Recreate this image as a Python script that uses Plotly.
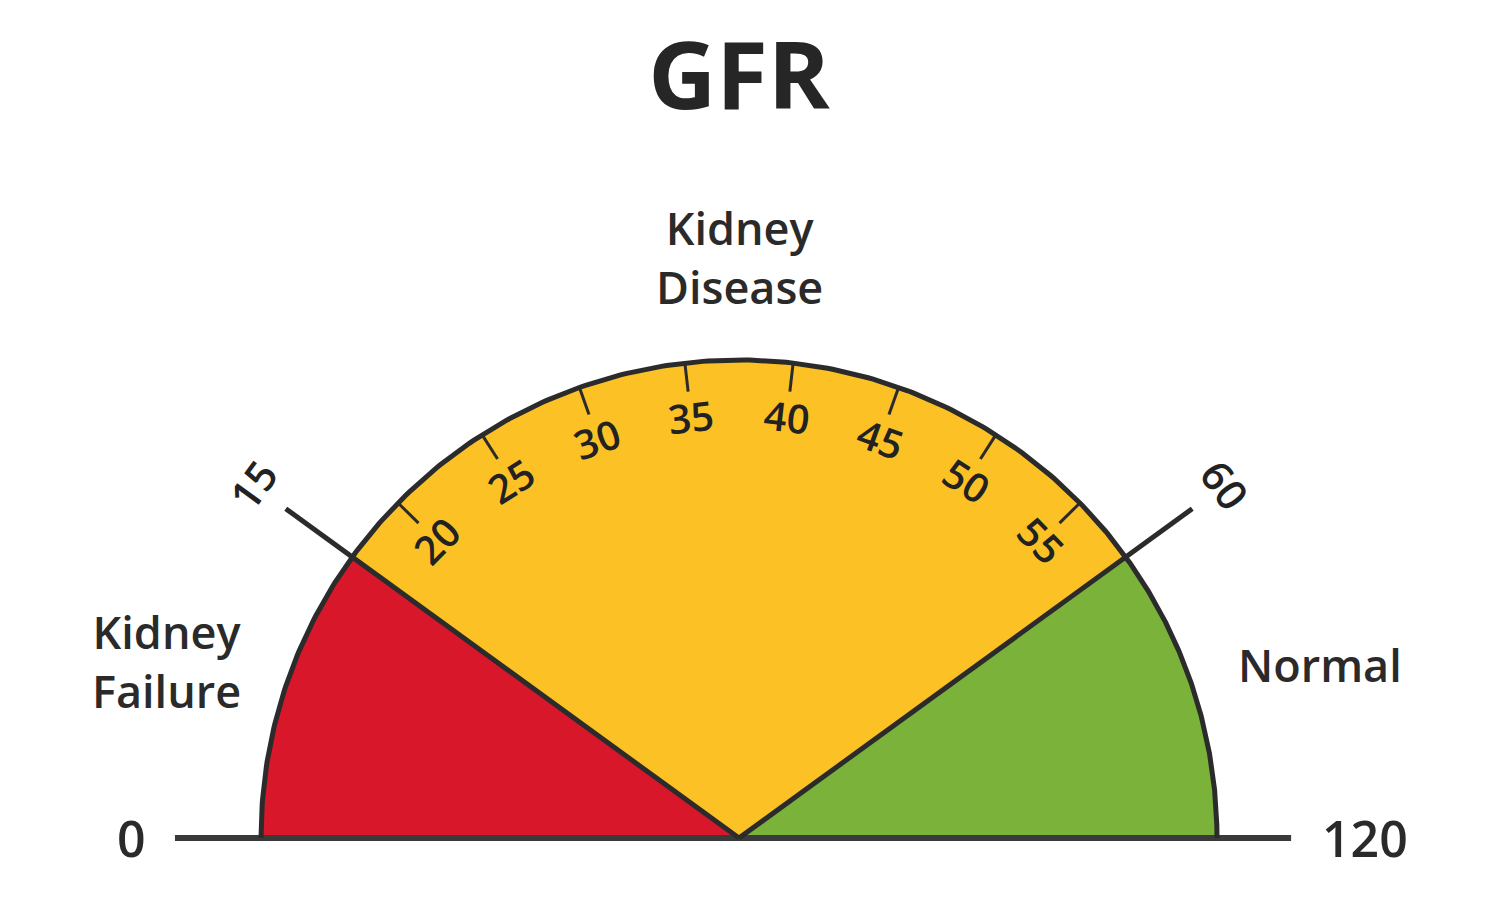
import numpy as np
import plotly.graph_objects as go

# ---- data ----
title_text = "GFR"
zone_names = ["Kidney<br>Failure", "Kidney<br>Disease", "Normal"]
zone_bounds = [0, 15, 60, 120]
zone_colors = ["#d9172b", "#fcc125", "#7ab23a"]
boundary_values = [15, 60]
tick_values = [20, 25, 30, 35, 40, 45, 50, 55]
end_values = [0, 120]
# gauge scale: value -> angle (degrees, 180 = left, 0 = right)
scale_values = [0, 15, 20, 55, 60, 120]
scale_angles = [180, 144, 135.5, 44.5, 36, 0]

DARK = "#2b2b2b"
FONT = "Open Sans"


def ang(v):
    return np.interp(v, scale_values, scale_angles)


def pt(v, r):
    a = np.radians(ang(v))
    return r * np.cos(a), r * np.sin(a)


fig = go.Figure()

# zone sectors
for lo, hi, col in zip(zone_bounds[:-1], zone_bounds[1:], zone_colors):
    vs = np.linspace(lo, hi, 120)
    xs, ys = pt(vs, 1.0)
    fig.add_trace(go.Scatter(
        x=np.concatenate([[0], xs, [0]]), y=np.concatenate([[0], ys, [0]]),
        fill="toself", fillcolor=col, mode="lines", line=dict(width=0),
        hoverinfo="skip", showlegend=False))

# baseline
bx0, by0 = pt(end_values[0], 1.18)
bx1, by1 = pt(end_values[1], 1.155)
fig.add_trace(go.Scatter(x=[bx0, bx1], y=[by0, by1], mode="lines",
                         line=dict(color="#3a3a3a", width=6), hoverinfo="skip", showlegend=False))

# outer arc
vs = np.linspace(end_values[0], end_values[1], 500)
ax_, ay_ = pt(vs, 1.0)
fig.add_trace(go.Scatter(x=ax_, y=ay_, mode="lines", line=dict(color=DARK, width=5),
                         hoverinfo="skip", showlegend=False))

# boundary lines
for v in boundary_values:
    ex, ey = pt(v, 1.172)
    fig.add_trace(go.Scatter(x=[0, ex], y=[0, ey], mode="lines", line=dict(color=DARK, width=5),
                             hoverinfo="skip", showlegend=False))

# tick marks
for v in tick_values:
    x0, y0 = pt(v, 1.0)
    x1, y1 = pt(v, 0.94)
    fig.add_trace(go.Scatter(x=[x0, x1], y=[y0, y1], mode="lines", line=dict(color=DARK, width=3),
                             hoverinfo="skip", showlegend=False))

annotations = []
# tick labels
for v in tick_values:
    x, y = pt(v, 0.887)
    annotations.append(dict(x=x, y=y, xref="x", yref="y", text=str(v), showarrow=False,
                            textangle=90 - float(ang(v)),
                            font=dict(family=FONT, size=40, color="#222222", weight=600)))
# boundary labels
for v in boundary_values:
    x, y = pt(v, 1.257)
    annotations.append(dict(x=x, y=y, xref="x", yref="y", text=str(v), showarrow=False,
                            textangle=90 - float(ang(v)),
                            font=dict(family=FONT, size=42, color="#222222", weight=600)))
# end labels
x, y = pt(end_values[0], 1.236)
annotations.append(dict(x=x, y=y, xref="x", yref="y", text=str(end_values[0]), showarrow=False,
                        xanchor="right", font=dict(family=FONT, size=50, color="#2a2a2a", weight=600)))
x, y = pt(end_values[1], 1.215)
annotations.append(dict(x=x, y=y, xref="x", yref="y", text=str(end_values[1]), showarrow=False,
                        xanchor="left", font=dict(family=FONT, size=50, color="#2a2a2a", weight=600)))

# zone labels (placement: angle in degrees, radius)
zone_label_place = [(162.8, 1.253), (90.0, 1.215), (16.6, 1.268)]
for name, (a_deg, r) in zip(zone_names, zone_label_place):
    a = np.radians(a_deg)
    annotations.append(dict(x=r * np.cos(a), y=r * np.sin(a), xref="x", yref="y", text=name,
                            showarrow=False,
                            font=dict(family=FONT, size=45, color="#2a2a2a", weight=600)))

R = 478.0
CX, CY = 731.0, 830.0   # gauge centre in figure pixels (page adds ~8px margin)
fig.update_layout(
    width=1500, height=900,
    margin=dict(l=0, r=0, t=0, b=0),
    paper_bgcolor="white", plot_bgcolor="white",
    title=dict(text=title_text, x=CX / 1500, y=1 - 68 / 900, xanchor="center", yanchor="middle",
               xref="paper", yref="container",
               font=dict(family=FONT, size=94, color="#262626", weight=700)),
    xaxis=dict(range=[-CX / R, (1500 - CX) / R], visible=False, fixedrange=True),
    yaxis=dict(range=[-(900 - CY) / R, CY / R], visible=False, fixedrange=True),
    annotations=annotations,
    showlegend=False,
)

fig.write_html("out.html")
